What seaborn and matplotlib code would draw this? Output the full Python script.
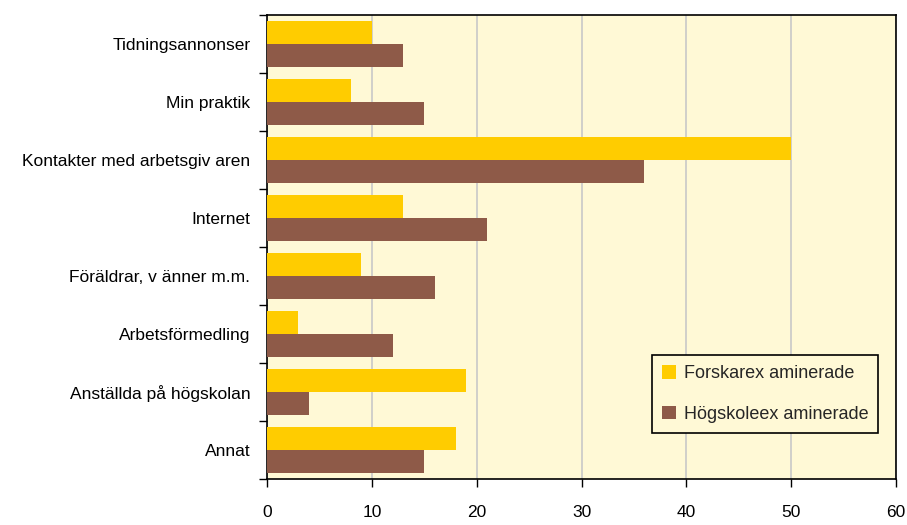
import matplotlib
matplotlib.use("Agg")
import matplotlib.pyplot as plt
import seaborn as sns
import pandas as pd
import numpy as np
from matplotlib.ticker import FixedLocator

categories = ["Tidningsannonser", "Min praktik", "Kontakter med arbetsgiv aren",
              "Internet", "Föräldrar, v änner m.m.", "Arbetsförmedling",
              "Anställda på högskolan", "Annat"]
forskare = [10, 8, 50, 13, 9, 3, 19, 18]
hogskole = [13, 15, 36, 21, 16, 12, 4, 15]
series_names = ["Forskarex aminerade", "Högskoleex aminerade"]
x_ticks = [0, 10, 20, 30, 40, 50, 60]

df = pd.DataFrame({
    "cat": categories * 2,
    "val": forskare + hogskole,
    "serie": [series_names[0]] * len(categories) + [series_names[1]] * len(categories),
})

sns.set_theme(style="white")
plt.rcParams['font.family'] = ['Liberation Sans', 'DejaVu Sans']

fig = plt.figure(figsize=(9.07, 5.25), dpi=100)
ax = fig.add_axes([267/907, 1-479/525, (896-267)/907, (479-15)/525])
bg = "#FFF9D6"
ax.set_facecolor(bg)

sns.barplot(data=df, y="cat", x="val", hue="serie", orient="h",
            palette=["#FFCC00", "#8E5A48"], width=0.8, saturation=1,
            order=categories, hue_order=series_names, ax=ax, zorder=3,
            linewidth=0, edgecolor="none")

ax.set_xlim(0, 60)
ax.set_ylim(len(categories) - 0.5, -0.5)
ax.set_xticks(x_ticks)
ax.set_xticklabels([str(t) for t in x_ticks], fontsize=12.5)
ax.xaxis.grid(True, color="#C8C8C8", linewidth=1.2, zorder=0)
ax.set_axisbelow(True)
ax.set_xlabel("")
ax.set_ylabel("")
ax.tick_params(axis="x", direction="out", length=6, width=1, color="black", pad=13, bottom=True)
ax.tick_params(axis="y", which="major", length=0, pad=12, labelsize=12.5)
ax.yaxis.set_minor_locator(FixedLocator(np.arange(-0.5, len(categories), 1.0)))
ax.tick_params(axis="y", which="minor", direction="out", length=6, width=1, color="black", left=True)
for s in ax.spines.values():
    s.set_color("black")
    s.set_linewidth(1.2)
for lab in ax.get_yticklabels():
    lab.set_color("black")
for lab in ax.get_xticklabels():
    lab.set_color("black")

leg = ax.legend(loc="upper left", bbox_to_anchor=((652-267)/629, (479-355)/464),
                borderaxespad=0, frameon=True, fancybox=False, fontsize=13,
                handlelength=0.8, handleheight=0.8, labelspacing=1.3,
                borderpad=0.55, handletextpad=0.4)
leg.get_frame().set_edgecolor("black")
leg.get_frame().set_facecolor(bg)
leg.get_frame().set_alpha(1)
leg.get_frame().set_linewidth(1.2)

fig.savefig("out.png", dpi=100)
